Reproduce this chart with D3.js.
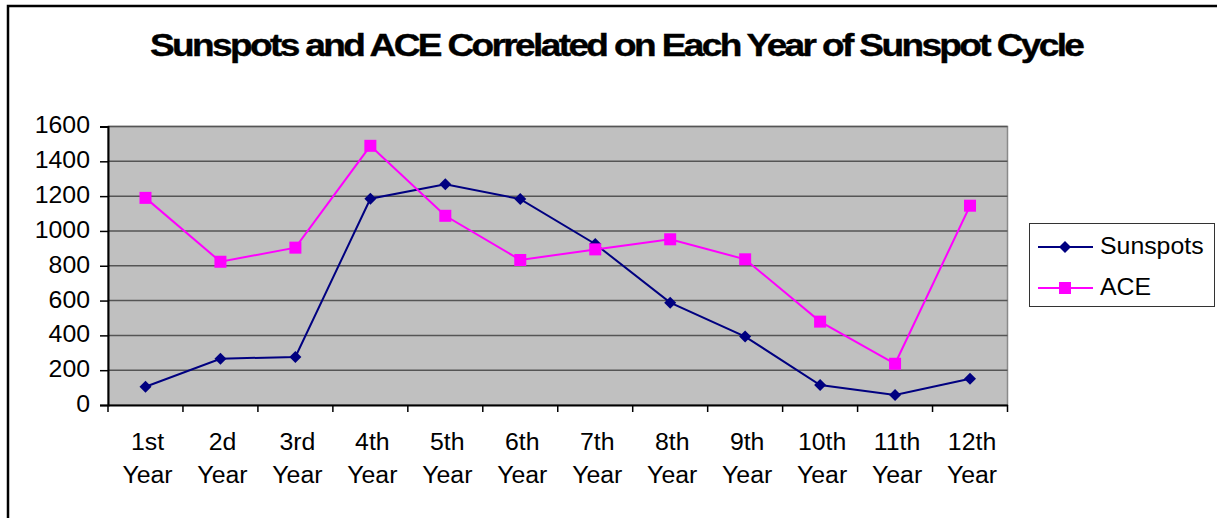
<!DOCTYPE html>
<html>
<head>
<meta charset="utf-8">
<script src="https://cdn.jsdelivr.net/npm/d3@7"></script>
<style>
  body { margin: 0; background: #fff; }
  svg { display: block; }
  text { font-family: "Liberation Sans", Arial, sans-serif; fill: #000; }
</style>
</head>
<body>
<svg id="chart" width="1217" height="518"></svg>
<script>
const title = "Sunspots and ACE Correlated on Each Year of Sunspot Cycle";
const categories = ["1st Year","2d Year","3rd Year","4th Year","5th Year","6th Year","7th Year","8th Year","9th Year","10th Year","11th Year","12th Year"];
const sunspots = [105, 266, 276, 1185, 1268, 1183, 925, 588, 393, 115, 57, 151];
const ace = [1190, 823, 904, 1489, 1087, 833, 894, 952, 837, 479, 237, 1145];
const yTicks = [0, 200, 400, 600, 800, 1000, 1200, 1400, 1600];
const seriesNames = ["Sunspots", "ACE"];

const svg = d3.select("#chart");
const plot = {left: 108, top: 126.5, right: 1007.5, bottom: 405};

function stretch(sel, k) {
  sel.each(function() {
    const w = this.getComputedTextLength();
    this.setAttribute("textLength", w * k);
    this.setAttribute("lengthAdjust", "spacingAndGlyphs");
  });
}

// outer chart border (extends beyond the view on right and bottom)
svg.append("rect").attr("x", 8).attr("y", 6).attr("width", 1240).attr("height", 540)
  .attr("fill", "#fff").attr("stroke", "#000").attr("stroke-width", 2.5);

// title: tight letter spacing, scaled to the reference width
const tg = svg.append("g");
const t = tg.append("text").attr("x", 0).attr("y", 0).attr("text-anchor", "start")
  .attr("font-size", 31).attr("font-weight", "bold").attr("letter-spacing", -2.2)
  .attr("stroke", "#000").attr("stroke-width", 0.4).text(title);
const tw = t.node().getBBox().width;
tg.attr("transform", `translate(150,56) scale(${935 / tw},1)`);

const x = d3.scaleBand().domain(categories).range([plot.left, plot.right]);
const y = d3.scaleLinear().domain([0, 1600]).range([plot.bottom, plot.top]);

// plot background
svg.append("rect").attr("x", plot.left).attr("y", plot.top)
  .attr("width", plot.right - plot.left).attr("height", plot.bottom - plot.top)
  .attr("fill", "#c0c0c0").attr("stroke", "#8a8a8a").attr("stroke-width", 1.5);

// gridlines
svg.append("g").selectAll("line").data(yTicks.filter(d => d > 0)).join("line")
  .attr("x1", plot.left).attr("x2", plot.right)
  .attr("y1", d => y(d)).attr("y2", d => y(d))
  .attr("stroke", "#555").attr("stroke-width", 1.5);

// y axis
const yAxis = svg.append("g").attr("transform", `translate(${plot.left},0)`)
  .call(d3.axisLeft(y).tickValues(yTicks).tickSize(8).tickPadding(10).tickFormat(d3.format("d")));
yAxis.select(".domain").attr("stroke", "#000").attr("stroke-width", 2);
yAxis.selectAll(".tick line").attr("stroke", "#000").attr("stroke-width", 1.5);
yAxis.selectAll(".tick text").attr("font-size", 23).attr("font-family", null).attr("fill", "#000").attr("dy", "0.28em");
stretch(yAxis.selectAll(".tick text"), 1.08);

// x axis
const xAxis = svg.append("g").attr("transform", `translate(0,${plot.bottom})`)
  .call(d3.axisBottom(x).tickSize(0).tickFormat(""));
xAxis.select(".domain").attr("stroke", "#000").attr("stroke-width", 2);
const bounds = d3.range(categories.length + 1).map(i => plot.left + i * x.step());
svg.append("g").selectAll("line").data(bounds).join("line")
  .attr("x1", d => d).attr("x2", d => d).attr("y1", plot.bottom).attr("y2", plot.bottom + 7)
  .attr("stroke", "#000").attr("stroke-width", 1.5);
const xl = svg.append("g").selectAll("text").data(categories).join("text")
  .attr("text-anchor", "middle").attr("font-size", 23)
  .attr("transform", d => `translate(${x(d) + x.bandwidth() / 2 + 2},0)`);
xl.append("tspan").attr("x", 0).attr("y", 450).text(d => d.split(" ")[0]);
xl.append("tspan").attr("x", 0).attr("y", 483).text(d => d.split(" ")[1]);
xl.selectAll("tspan").each(function() {
  const w = this.getComputedTextLength();
  this.setAttribute("textLength", w * 1.08);
  this.setAttribute("lengthAdjust", "spacingAndGlyphs");
});

// series
const cx = d => x(d) + x.bandwidth() / 2;
const line = d3.line().x((d, i) => cx(categories[i])).y(d => y(d));
const colors = ["#000080", "#ff00ff"];
const diamond = d3.symbol().type(d3.symbolSquare).size(72);

svg.append("path").datum(sunspots).attr("d", line).attr("fill", "none")
  .attr("stroke", colors[0]).attr("stroke-width", 2);
svg.append("path").datum(ace).attr("d", line).attr("fill", "none")
  .attr("stroke", colors[1]).attr("stroke-width", 2);

svg.append("g").selectAll("path").data(sunspots).join("path")
  .attr("d", diamond)
  .attr("transform", (d, i) => `translate(${cx(categories[i])},${y(d)}) rotate(45)`)
  .attr("fill", colors[0]);
svg.append("g").selectAll("rect").data(ace).join("rect")
  .attr("x", (d, i) => cx(categories[i]) - 6).attr("y", d => y(d) - 6)
  .attr("width", 12).attr("height", 12).attr("fill", colors[1]);

// legend
const lg = svg.append("g");
lg.append("rect").attr("x", 1029.5).attr("y", 223.5).attr("width", 185).attr("height", 83)
  .attr("fill", "#fff").attr("stroke", "#333").attr("stroke-width", 1);
const rows = [247, 288];
seriesNames.forEach((name, i) => {
  lg.append("line").attr("x1", 1038).attr("x2", 1093).attr("y1", rows[i]).attr("y2", rows[i])
    .attr("stroke", colors[i]).attr("stroke-width", 2);
  if (i === 0) {
    lg.append("path").attr("d", diamond).attr("transform", `translate(1065,${rows[i]}) rotate(45)`).attr("fill", colors[i]);
  } else {
    lg.append("rect").attr("x", 1059).attr("y", rows[i] - 6).attr("width", 12).attr("height", 12).attr("fill", colors[i]);
  }
  const tx = lg.append("text").attr("x", 1100).attr("y", rows[i] + 7).attr("font-size", 23).text(name);
  stretch(tx, 1.08);
});
</script>
</body>
</html>
